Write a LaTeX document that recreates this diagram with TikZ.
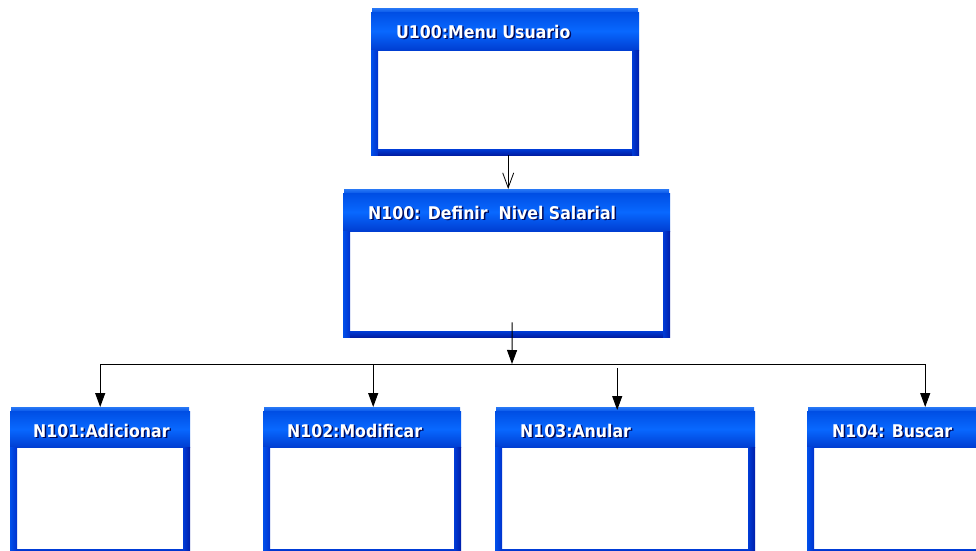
\documentclass[tikz,border=0pt]{standalone}
\usepackage{fontspec}
\newfontfamily\hdrfont{DejaVu Sans Condensed}
\usetikzlibrary{arrows.meta,calc}
\definecolor{stripA}{RGB}{40,120,245}
\definecolor{stripB}{RGB}{10,90,235}
\definecolor{hdrA}{RGB}{0,78,228}
\definecolor{hdrB}{RGB}{8,104,255}
\definecolor{hdrC}{RGB}{0,62,210}
\definecolor{lbA}{RGB}{0,80,235}
\definecolor{lbB}{RGB}{0,50,205}
\definecolor{rbA}{RGB}{0,60,215}
\definecolor{rbB}{RGB}{0,30,170}
\definecolor{bbA}{RGB}{0,60,215}
\definecolor{bbB}{RGB}{0,30,165}
\definecolor{shadowc}{RGB}{0,10,90}
\tikzset{
  x=1pt,y=1pt,
  boxbase/.style={inner sep=0pt, anchor=north west, fill=white},
  hdrtxt/.style={anchor=base west, inner sep=0pt, text=white, font=\hdrfont\bfseries\fontsize{17.5}{20}\selectfont},
  conn/.style={draw=black, line width=1pt},
  filltip/.style={-{Triangle[length=14pt,width=10pt]}},
  opentip/.style={-{Straight Barb[length=15pt,width=11pt,line width=0.8pt]}}
}
% name, x, y, w, h, header height, text x offset, text
\newcommand\winbox[8]{%
  \node[boxbase, minimum width=#4, minimum height=#5] (#1) at (#2,-#3) {};
  \shade[top color=stripA,bottom color=stripB] ({#2+1},-#3) rectangle ({#2+#4-1},{-#3-4});
  \shade[top color=hdrA,bottom color=hdrC,middle color=hdrB] (#2,{-#3-4}) rectangle ({#2+#4},{-#3-#6});
  \shade[left color=lbA,right color=lbB] (#2,{-#3-#6}) rectangle ({#2+7},{-#3-#5});
  \shade[left color=rbA,right color=rbB] ({#2+#4-7},{-#3-#6}) rectangle ({#2+#4},{-#3-#5});
  \shade[top color=bbA,bottom color=bbB] ({#2+7},{-#3-#5+6}) rectangle ({#2+#4-7},{-#3-#5});
  \node[hdrtxt, text=shadowc] (#1-s) at ({#2+#7+1.5},{-#3-30-1.5}) {#8};
  \node[hdrtxt] (#1-t) at ({#2+#7},{-#3-30}) {#8};
}
\begin{document}
\begin{tikzpicture}
\useasboundingbox[fill=white] (0,0) rectangle (976,-550);
\winbox{u100}{371}{8}{268}{147}{42}{25}{U100:Menu Usuario}
\winbox{n100}{343}{189}{327}{148}{42}{25}{N100: Definir~~Nivel Salarial}
\winbox{n101}{10}{407}{180}{148}{40}{23}{N101:Adicionar}
\winbox{n102}{263}{407}{198}{148}{40}{24}{N102:Modificar}
\winbox{n103}{495}{407}{260}{148}{40}{25}{N103:Anular}
\winbox{n104}{807}{407}{180}{148}{40}{25}{N104: Buscar}
\coordinate (j) at (512,-364);
\draw[conn,opentip] ([xshift=3]u100.south) -- ([xshift=3]u100.south |- n100.north);
\draw[conn,filltip] ($(n100.south)+(5.5,15)$) -- (j);
\draw[conn] (n101.north |- j) -- ($(n104.north |- j)+(28,0)$);
\draw[conn,filltip] (n101.north |- j) -- (n101.north);
\draw[conn,filltip] ($(n102.north |- j)+(11,0)$) -- ($(n102.north)+(11,0)$);
\draw[conn,filltip] ($(n103.north |- j)+(-8,-4)$) -- ($(n103.north)+(-8,-3)$);
\draw[conn,filltip] ($(n104.north |- j)+(28,0)$) -- ($(n104.north)+(28,0)$);
\end{tikzpicture}
\end{document}
